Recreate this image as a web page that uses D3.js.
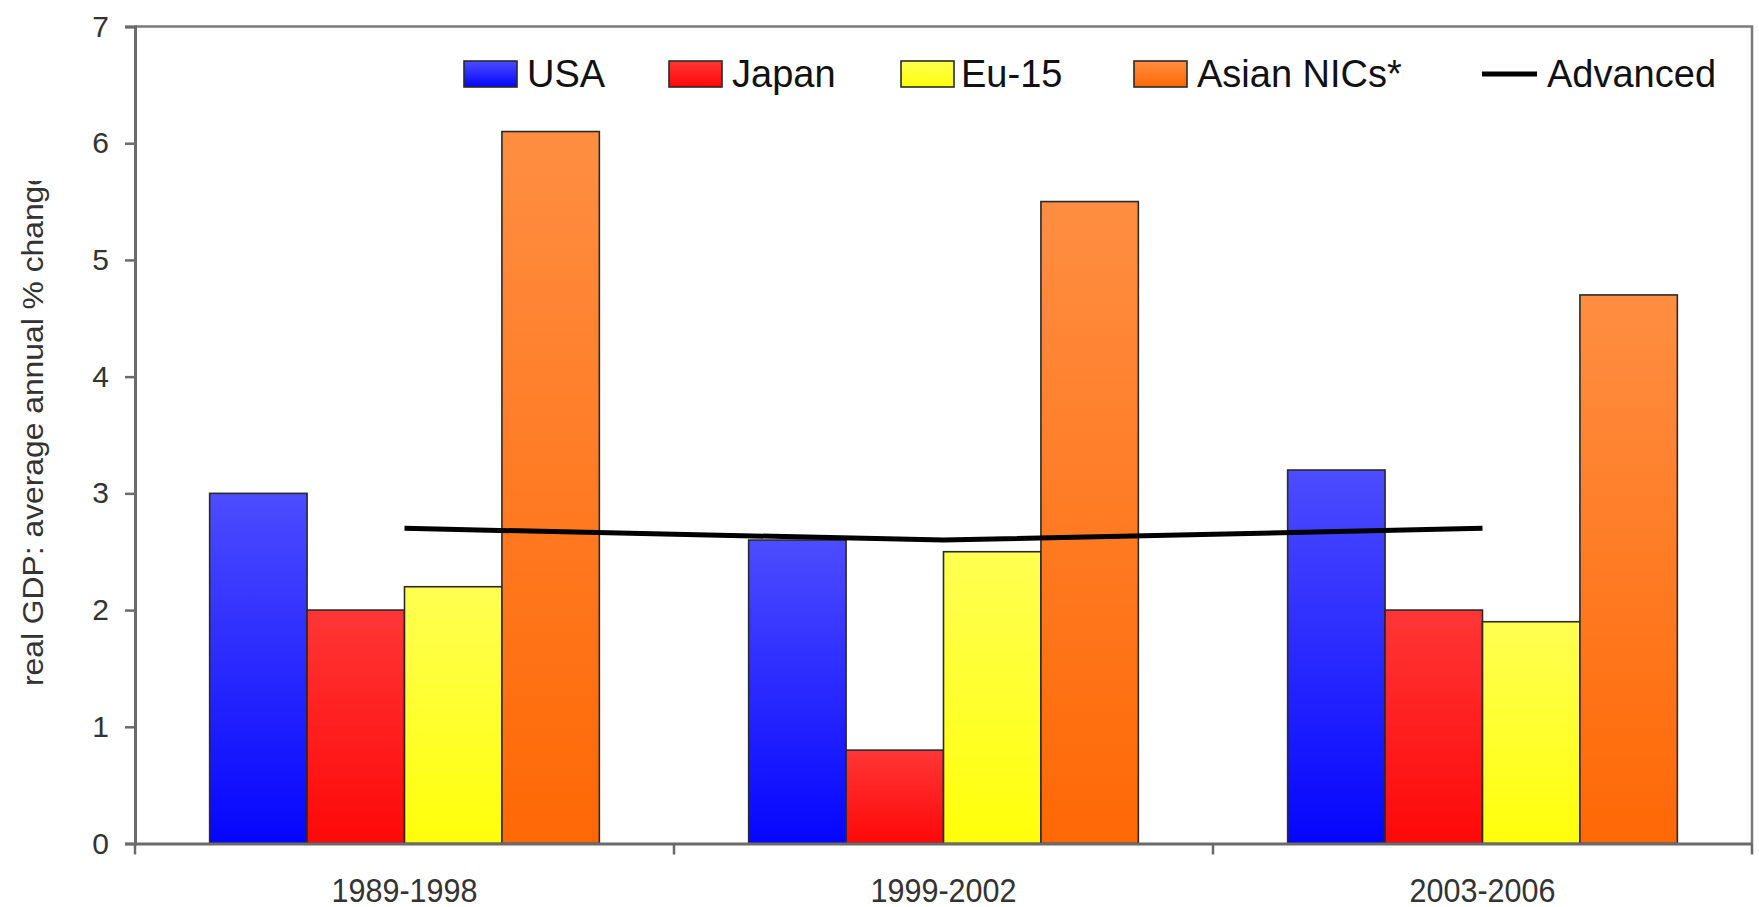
<!DOCTYPE html>
<html>
<head>
<meta charset="utf-8">
<script src="https://cdn.jsdelivr.net/npm/d3@7"></script>
<style>
  html, body { margin: 0; padding: 0; background: #fff; }
  svg { display: block; }
  text { font-family: "Liberation Sans", Arial, sans-serif; }
</style>
</head>
<body>
<script>
// ---- data ----
const categories = ["1989-1998", "1999-2002", "2003-2006"];
const seriesNames = ["USA", "Japan", "Eu-15", "Asian NICs*"];
const usa = [3.0, 2.6, 3.2];
const japan = [2.0, 0.8, 2.0];
const eu15 = [2.2, 2.5, 1.9];
const asianNICs = [6.1, 5.5, 4.7];
const advanced = [2.7, 2.6, 2.7];
const lineName = "Advanced";
const yTicks = [0, 1, 2, 3, 4, 5, 6, 7];
const yTitle = "real GDP: average annual % change";

const seriesValues = [usa, japan, eu15, asianNICs];
const seriesColors = [
  { top: "#4c4cff", bottom: "#0505ff" },
  { top: "#ff3636", bottom: "#ff0808" },
  { top: "#ffff52", bottom: "#ffff0a" },
  { top: "#ff8e42", bottom: "#ff6805" }
];

const W = 1759, H = 907;
const plotLeft = 135, plotRight = 1752, plotTop = 26.5, plotBottom = 843.5;

const svg = d3.select("body").append("svg").attr("width", W).attr("height", H);
const defs = svg.append("defs");

seriesColors.forEach((c, i) => {
  const g = defs.append("linearGradient").attr("id", "grad" + i)
    .attr("x1", 0).attr("y1", 0).attr("x2", 0).attr("y2", 1);
  g.append("stop").attr("offset", "0%").attr("stop-color", c.top);
  g.append("stop").attr("offset", "100%").attr("stop-color", c.bottom);
});

defs.append("clipPath").attr("id", "titleClip")
  .append("rect").attr("x", 0).attr("y", 181).attr("width", 80).attr("height", 700);

const x0 = d3.scaleBand().domain(categories).range([plotLeft, plotRight]).paddingInner(0).paddingOuter(0);
const bw = x0.bandwidth();
const x1 = d3.scaleBand().domain(seriesNames).range([bw * 0.1385, bw * 0.8615]).padding(0);
const y = d3.scaleLinear().domain([0, 7]).range([plotBottom, plotTop]);

// frame (top & right)
svg.append("path")
  .attr("d", `M${plotLeft},${plotTop}H${plotRight}V${plotBottom}`)
  .attr("fill", "none").attr("stroke", "#7a7a7a").attr("stroke-width", 2.5);

// bars
const groups = svg.append("g").selectAll("g").data(categories).join("g")
  .attr("transform", d => `translate(${x0(d)},0)`);

groups.selectAll("rect")
  .data((d, ci) => seriesNames.map((s, si) => ({ s, si, v: seriesValues[si][ci] })))
  .join("rect")
  .attr("x", d => x1(d.s))
  .attr("y", d => y(d.v))
  .attr("width", x1.bandwidth())
  .attr("height", d => y(0) - y(d.v))
  .attr("fill", d => `url(#grad${d.si})`)
  .attr("stroke", "#2a2a2a").attr("stroke-width", 1.6);

// advanced line
const line = d3.line()
  .x((d, i) => x0(categories[i]) + bw / 2)
  .y(d => y(d));
svg.append("path").datum(advanced)
  .attr("d", line)
  .attr("fill", "none").attr("stroke", "#000").attr("stroke-width", 5);

// y axis
const yAxis = d3.axisLeft(y).tickValues(yTicks).tickSize(10).tickPadding(16).tickFormat(d3.format("d"));
const ya = svg.append("g").attr("transform", `translate(${plotLeft},0)`).call(yAxis);
ya.select(".domain").attr("stroke", "#6a6a6a").attr("stroke-width", 3);
ya.selectAll(".tick line").attr("stroke", "#6a6a6a").attr("stroke-width", 2.5);
ya.selectAll(".tick text").attr("font-size", 30).attr("fill", "#333")
  .attr("font-family", "Liberation Sans, Arial, sans-serif");

// x axis
const xAxis = d3.axisBottom(x0).tickSize(0).tickPadding(0);
const xa = svg.append("g").attr("transform", `translate(0,${plotBottom})`).call(xAxis);
xa.select(".domain").attr("stroke", "#6a6a6a").attr("stroke-width", 3);
xa.selectAll(".tick text")
  .attr("y", 58).attr("dy", 0)
  .attr("font-size", 34).attr("fill", "#333")
  .attr("font-family", "Liberation Sans, Arial, sans-serif")
  .attr("textLength", 146).attr("lengthAdjust", "spacingAndGlyphs");
// category boundary ticks
const boundaries = categories.map(c => x0(c)).concat([x0(categories[categories.length - 1]) + bw]);
svg.append("g").selectAll("line").data(boundaries).join("line")
  .attr("x1", d => d).attr("x2", d => d)
  .attr("y1", plotBottom).attr("y2", plotBottom + 11)
  .attr("stroke", "#6a6a6a").attr("stroke-width", 2.5);

// y title
svg.append("g").attr("clip-path", "url(#titleClip)")
  .append("text")
  .attr("transform", "translate(43,686) rotate(-90)")
  .attr("text-anchor", "start")
  .attr("font-size", 29).attr("fill", "#333")
  .attr("textLength", 518).attr("lengthAdjust", "spacingAndGlyphs")
  .text(yTitle);

// legend
const legendItems = [
  { name: seriesNames[0], x: 464, tx: 527, type: "rect", c: 0 },
  { name: seriesNames[1], x: 669, tx: 732, type: "rect", c: 1 },
  { name: seriesNames[2], x: 901, tx: 961, type: "rect", c: 2 },
  { name: seriesNames[3], x: 1134, tx: 1197, type: "rect", c: 3 },
  { name: lineName, x: 1482, tx: 1547, type: "line" }
];
const lg = svg.append("g");
legendItems.forEach(it => {
  if (it.type === "rect") {
    lg.append("rect").attr("x", it.x).attr("y", 61).attr("width", 53).attr("height", 26)
      .attr("fill", `url(#grad${it.c})`).attr("stroke", "#2a2a2a").attr("stroke-width", 1.6);
  } else {
    lg.append("line").attr("x1", it.x).attr("x2", it.x + 55).attr("y1", 74).attr("y2", 74)
      .attr("stroke", "#000").attr("stroke-width", 5);
  }
  lg.append("text").attr("x", it.tx).attr("y", 87).attr("font-size", 38).attr("fill", "#111")
    .text(it.name);
});
</script>
</body>
</html>
